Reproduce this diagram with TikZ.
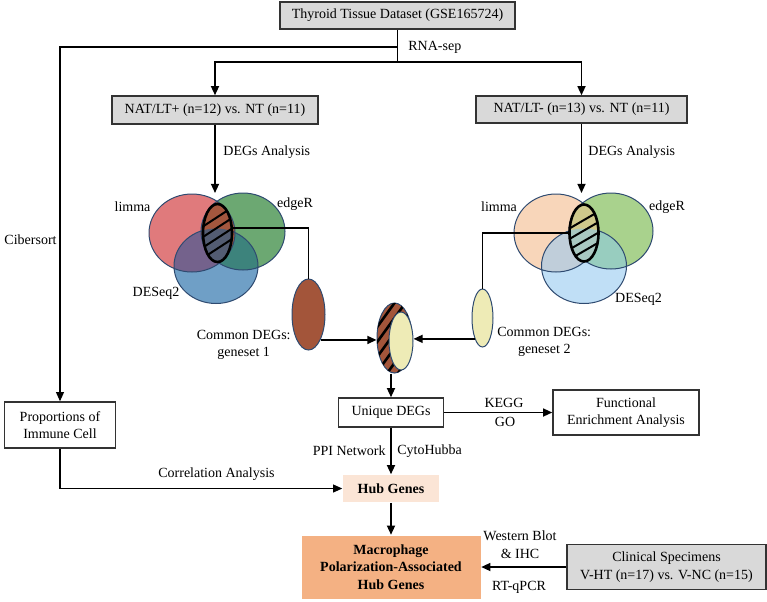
\documentclass[tikz,border=0pt]{standalone}
\usepackage{fontspec}
\setmainfont{Liberation Serif}
\usetikzlibrary{arrows.meta,positioning,shapes.geometric}
\definecolor{bgray}{HTML}{D9D9D9}
\definecolor{bline}{HTML}{333333}
\definecolor{vedge}{HTML}{2E4A70}
\definecolor{lred}{HTML}{E07A7C}
\definecolor{lgreen}{HTML}{6CA872}
\definecolor{lblue}{HTML}{6F9FC6}
\definecolor{lrb}{HTML}{74628C}
\definecolor{lgb}{HTML}{3D837C}
\definecolor{lrg}{HTML}{A4573E}
\definecolor{lrgb}{HTML}{535C72}
\definecolor{rpeach}{HTML}{F8D6BA}
\definecolor{rgreen}{HTML}{A9D28D}
\definecolor{rblue}{HTML}{C0DFF6}
\definecolor{rpb}{HTML}{C0CEDA}
\definecolor{rgb}{HTML}{98CDBF}
\definecolor{rpg}{HTML}{CFC98C}
\definecolor{rpgb}{HTML}{A9C8C1}
\definecolor{gsbrown}{HTML}{A3553A}
\definecolor{gsyellow}{HTML}{EEEBB6}
\definecolor{hubfill}{HTML}{FBE5D6}
\definecolor{macfill}{HTML}{F4B183}
\newcommand{\txt}{\fontsize{7}{8.8}\selectfont}
% the three sets of each Venn diagram
\newcommand{\lR}{(192,233) ellipse [x radius=43, y radius=39]}
\newcommand{\lG}{(243,231.5) ellipse [x radius=42, y radius=38.5]}
\newcommand{\lB}{(216,266) ellipse [x radius=42, y radius=37.5]}
\newcommand{\lH}{(217.5,233) ellipse [x radius=14.5, y radius=29]}
\newcommand{\rR}{(556,233) ellipse [x radius=42, y radius=39]}
\newcommand{\rG}{(611,231) ellipse [x radius=42, y radius=38]}
\newcommand{\rB}{(584,266) ellipse [x radius=42.5, y radius=37.5]}
\newcommand{\rH}{(584,233) ellipse [x radius=14.5, y radius=28.5]}
\tikzset{
  box/.style     = {rectangle, draw=bline, fill=#1, line width=0.75pt, align=center,
                    inner sep=0pt, font=\txt},
  box/.default   = white,
  sz/.style 2 args = {minimum width=#1*0.5pt, minimum height=#2*0.5pt},
  arr/.style     = {-{Triangle[length=4.6pt,width=4pt]}, line width=0.85pt},
  thin arr/.style = {-{Triangle[length=4.6pt,width=4pt]}, line width=0.55pt},
  lbl/.style     = {font=\txt, inner sep=0pt, align=center},
  gset/.style    = {ellipse, draw=vedge, line width=0.5pt, fill=#1, inner sep=0pt},
  hatchring/.style = {ellipse, draw=black, line width=1.3pt, inner sep=0pt},
  hatchln/.style = {black, line width=1pt},
}
\begin{document}
\begin{tikzpicture}[x=0.5pt,y=-0.5pt]
\useasboundingbox (0,0) rectangle (767,601);
% dataset and the two comparisons
\node[box=bgray, sz={235}{27}] (data) at (397.5,15.5) {Thyroid Tissue Dataset (GSE165724)};
\node[box=bgray, sz={206}{28}] (natp) at (215,110) {NAT/LT+ (n=12) vs. NT (n=11)};
\node[box=bgray, sz={211}{27}] (natm) at (581.5,109.5) {NAT/LT- (n=13) vs. NT (n=11)};
\coordinate (split) at (397.5,62);
\coordinate (cib) at (397.5,47);
\draw[line width=0.85pt] (data.south) -- (split);
\draw[arr] (split) -| (natp.north);
\draw[arr] (split) -| (natm.north);
\node[lbl, anchor=west] (rnalbl) at (408,47) {RNA-sep};
\coordinate (lvtop) at (215,193);
\coordinate (rvtop) at (581.5,193);
\draw[arr] (natp.south) -- (lvtop);
\draw[arr] (natm.south) -- (rvtop);
\node[lbl, anchor=west] (ldeg) at (223,152) {DEGs Analysis};
\node[lbl, anchor=west] (rdeg) at (588,152) {DEGs Analysis};

% left Venn diagram
\fill[lred] \lR; \fill[lgreen] \lG; \fill[lblue] \lB;
\begin{scope} \clip \lR; \fill[lrb] \lB; \end{scope}
\begin{scope} \clip \lG; \fill[lgb] \lB; \end{scope}
\begin{scope} \clip \lR; \fill[lrg] \lG; \end{scope}
\draw[vedge, line width=0.5pt] \lR \lG \lB;
\fill[lrg] \lH;
\begin{scope} \clip \lB; \fill[lrgb] \lH; \end{scope}
\begin{scope} \clip \lH;
  \foreach \d in {-16,-5.5,5,15.5}
    \draw[hatchln] (200,{233+\d+11.4}) -- (235,{233+\d-11.4});
\end{scope}
\node[hatchring, sz={29}{58}] (lhatch) at (217.5,233) {};
\node[lbl] (llimma) at (132.5,207) {limma};
\node[lbl] (ledge) at (295,204) {edgeR};
\node[lbl] (ldes) at (156,293) {DESeq2};

% right Venn diagram
\fill[rpeach] \rR; \fill[rgreen] \rG; \fill[rblue] \rB;
\begin{scope} \clip \rR; \fill[rpb] \rB; \end{scope}
\begin{scope} \clip \rG; \fill[rgb] \rB; \end{scope}
\begin{scope} \clip \rR; \fill[rpg] \rG; \end{scope}
\draw[vedge, line width=0.5pt] \rR \rG \rB;
\fill[rpg] \rH;
\begin{scope} \clip \rB; \fill[rpgb] \rH; \end{scope}
\begin{scope} \clip \rH;
  \foreach \d in {-13,-2.5,8,18}
    \draw[hatchln] (567,{233+\d+9.9}) -- (601,{233+\d-9.9});
\end{scope}
\node[hatchring, sz={29}{57}] (rhatch) at (584,233) {};
\node[lbl] (rlimma) at (499,207) {limma};
\node[lbl] (redge) at (667,207) {edgeR};
\node[lbl] (rdes) at (638.5,299) {DESeq2};

% common DEGs and their union
\node[gset=gsbrown, sz={33}{71}] (gs1) at (308.5,314.5) {};
\node[gset=gsyellow, sz={21}{58}] (gs2) at (482.5,318) {};
\draw[line width=0.85pt] (lhatch.18) -| (gs1.north);
\draw[line width=0.85pt] (rhatch.west) -| (gs2.north);
\node[lbl, anchor=east] (gs1lbl) at (291,345) {Common DEGs:\\geneset 1};
\node[lbl, anchor=west] (gs2lbl) at (497,342) {Common DEGs:\\geneset 2};
\node[gset=gsbrown, sz={35}{70}] (merge) at (394.5,338) {};
\begin{scope} \clip (394.5,338) ellipse [x radius=17.5, y radius=35];
  \foreach \d in {-35,-20,-5,10,25,40}
    \draw[black, line width=1.3pt] (375,{338+\d+27}) -- (414,{338+\d-27});
\end{scope}
\node[gset=gsyellow, sz={24}{58}] (mergein) at (401,341) {};
\draw[arr] (gs1.south east) -- (gs1.south east -| merge.west);
\draw[arr] (gs2.south west) -- (gs2.south west -| mergein.east);

% downstream analysis
\node[box, sz={105}{29}] (uniq) at (391,412.5) {Unique DEGs};
\node[box, sz={146}{45}] (func) at (626,412.5) {Functional\\Enrichment Analysis};
\node[box, sz={111}{46}] (prop) at (60,425) {Proportions of\\Immune Cell};
\node[box=hubfill, draw=none, sz={96}{27}, font=\txt\bfseries] (hub) at (391,488.5) {Hub Genes};
\node[box=macfill, draw=none, sz={179}{63}, font=\txt\bfseries] (mac) at (391,567)
  {Macrophage\\Polarization-Associated\\Hub Genes};
\node[box=bgray, sz={199}{45}] (clin) at (666.5,567) {Clinical Specimens\\V-HT (n=17) vs. V-NC (n=15)};
\draw[arr] (merge.south -| uniq.north) -- (uniq.north);
\draw[arr] (uniq.east) -- (func.west);
\node[lbl] (kegg) at (504,403) {KEGG};
\node[lbl] (go) at (505,422) {GO};
\draw[arr] (uniq.south) -- (hub.north);
\node[lbl, anchor=east] (ppi) at (386,451) {PPI Network};
\node[lbl, anchor=west] (cyto) at (397,451) {CytoHubba};
\draw[thin arr] (cib) -| (prop.north);
\node[lbl, anchor=east] (ciblbl) at (57,240) {Cibersort};
\draw[thin arr] (prop.south) |- (hub.west);
\node[lbl] (corr) at (216.5,474) {Correlation Analysis};
\draw[arr] (hub.south) -- (mac.north);
\draw[arr] (clin.west) -- (mac.east);
\node[lbl] (wb) at (520,544.5) {Western Blot\\\& IHC};
\node[lbl] (rtq) at (519,587) {RT-qPCR};
\end{tikzpicture}
\end{document}
